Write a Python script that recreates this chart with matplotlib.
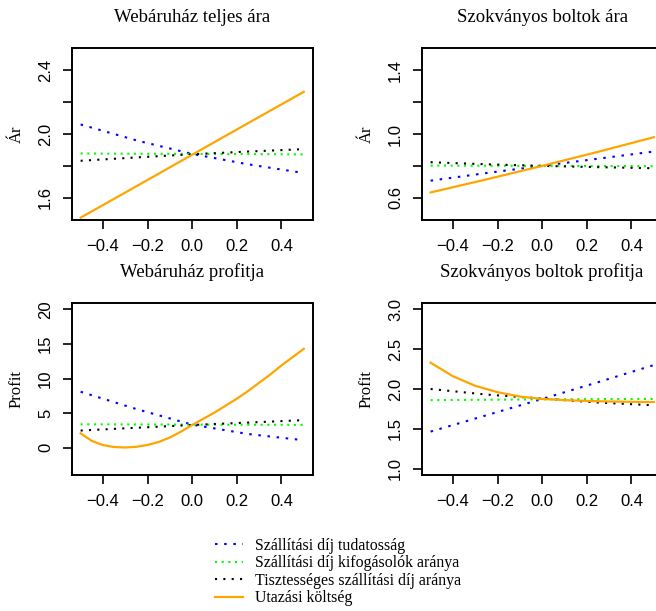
import numpy as np
import matplotlib
matplotlib.use("Agg")
import matplotlib.pyplot as plt
from matplotlib.lines import Line2D

# x grid (elasticity change)
x5 = [-0.5, -0.25, 0.0, 0.25, 0.5]
x11 = [-0.5, -0.4, -0.3, -0.2, -0.1, 0.0, 0.1, 0.2, 0.3, 0.4, 0.5]
x21 = [-0.5, -0.45, -0.4, -0.35, -0.3, -0.25, -0.2, -0.15, -0.1, -0.05, 0.0,
       0.05, 0.1, 0.15, 0.2, 0.25, 0.3, 0.35, 0.4, 0.45, 0.5]

# Webáruház teljes ára
web_ar_blue = [2.06, 1.96, 1.875, 1.81, 1.755]
web_ar_green = [1.878, 1.876, 1.875, 1.874, 1.872]
web_ar_black = [1.832, 1.853, 1.873, 1.89, 1.905]
web_ar_orange = [1.475, 1.672, 1.87, 2.068, 2.265]

# Szokványos boltok ára
bolt_ar_blue = [0.707, 0.755, 0.80, 0.845, 0.89]
bolt_ar_green = [0.802, 0.801, 0.80, 0.799, 0.798]
bolt_ar_black = [0.823, 0.81, 0.80, 0.792, 0.785]
bolt_ar_orange = [0.633, 0.715, 0.80, 0.888, 0.98]

# Webáruház profitja
web_pr_blue = [8.1, 5.6, 3.35, 2.0, 1.1]
web_pr_green = [3.4, 3.38, 3.36, 3.34, 3.32]
web_pr_black = [2.5, 2.9, 3.3, 3.65, 4.0]
web_pr_orange = [2.1, 1.0, 0.4, 0.12, 0.05, 0.15, 0.42, 0.85, 1.5, 2.35, 3.3,
                 4.2, 5.1, 6.1, 7.1, 8.2, 9.4, 10.6, 11.9, 13.1, 14.3]

# Szokványos boltok profitja
bolt_pr_blue = [1.465, 1.67, 1.875, 2.085, 2.30]
bolt_pr_green = [1.86, 1.865, 1.87, 1.873, 1.875]
bolt_pr_black = [2.0, 1.93, 1.88, 1.83, 1.795]
bolt_pr_orange = [2.33, 2.16, 2.04, 1.96, 1.905, 1.875, 1.86, 1.85, 1.843, 1.839, 1.836]

titles = ["Webáruház teljes ára", "Szokványos boltok ára",
          "Webáruház profitja", "Szokványos boltok profitja"]
ylabels = ["Ár", "Ár", "Profit", "Profit"]
legend_labels = ["Szállítási díj tudatosság", "Szállítási díj kifogásolók aránya",
                 "Tisztességes szállítási díj aránya", "Utazási költség"]

xticks = [-0.4, -0.2, 0.0, 0.2, 0.4]
yticks = [[1.6, 1.8, 2.0, 2.2, 2.4], [0.6, 0.8, 1.0, 1.2, 1.4],
          [0, 5, 10, 15, 20], [1.0, 1.5, 2.0, 2.5, 3.0]]
yticklabels = [["1.6", "", "2.0", "", "2.4"], ["0.6", "", "1.0", "", "1.4"],
               ["0", "5", "10", "15", "20"], ["1.0", "1.5", "2.0", "2.5", "3.0"]]
ylims = [(1.46, 2.54), (0.46, 1.54), (-3.92, 20.92), (0.92, 3.08)]

panels = [
    (x5, web_ar_blue, x5, web_ar_green, x5, web_ar_black, x5, web_ar_orange),
    (x5, bolt_ar_blue, x5, bolt_ar_green, x5, bolt_ar_black, x5, bolt_ar_orange),
    (x5, web_pr_blue, x5, web_pr_green, x5, web_pr_black, x21, web_pr_orange),
    (x5, bolt_pr_blue, x5, bolt_pr_green, x5, bolt_pr_black, x11, bolt_pr_orange),
]

SERIF = ["Liberation Serif", "DejaVu Serif"]
SANS = ["Liberation Sans", "DejaVu Sans"]

styles = [
    dict(color="#0000FF", linestyle=(0, (1.2, 3.2)), lw=1.5),
    dict(color="#00FF00", linestyle=(0, (1.0, 2.2)), lw=1.5),
    dict(color="black", linestyle=(0, (1.0, 3.0)), lw=1.5),
    dict(color="#FFA500", linestyle="-", lw=1.6),
]

fig = plt.figure(figsize=(6.56, 6.11), dpi=100)
positions = [(0.1093, 0.6399), (0.6428, 0.6399), (0.1093, 0.2226), (0.6428, 0.2226)]
W, H = 0.3674, 0.2815

for i, (pos, data) in enumerate(zip(positions, panels)):
    ax = fig.add_axes([pos[0], pos[1], W, H])
    for k in range(4):
        ax.plot(data[2 * k], data[2 * k + 1], **styles[k])
    ax.set_xlim(-0.54, 0.54)
    ax.set_ylim(*ylims[i])
    ax.set_xticks(xticks)
    ax.set_xticklabels([f"{t:.1f}".replace("-", "\u2212") for t in xticks],
                       family=SANS, fontsize=12)
    ax.set_yticks(yticks[i])
    ax.set_yticklabels(yticklabels[i], family=SANS, fontsize=12)
    ax.tick_params(axis="both", direction="out", length=6.5, width=1.2, pad=7)
    ax.tick_params(axis="y", labelrotation=90)
    for lbl in ax.get_yticklabels():
        lbl.set_va("center")
    for sp in ax.spines.values():
        sp.set_linewidth(1.4)
    ax.set_title(titles[i], family=SERIF, fontsize=13.5, pad=18.5)
    ax.set_ylabel(ylabels[i], family=SERIF, fontsize=12)
    ax.yaxis.set_label_coords(-0.195, 0.5)

handles = [Line2D([], [], **s) for s in styles]
fig.legend(handles, legend_labels, loc="upper left", bbox_to_anchor=(0.328, 0.12),
           frameon=False, prop={"family": SERIF, "size": 11.4}, handlelength=1.75,
           handletextpad=0.78, labelspacing=0.1, borderaxespad=0, borderpad=0)

fig.savefig("out.png", dpi=100)
